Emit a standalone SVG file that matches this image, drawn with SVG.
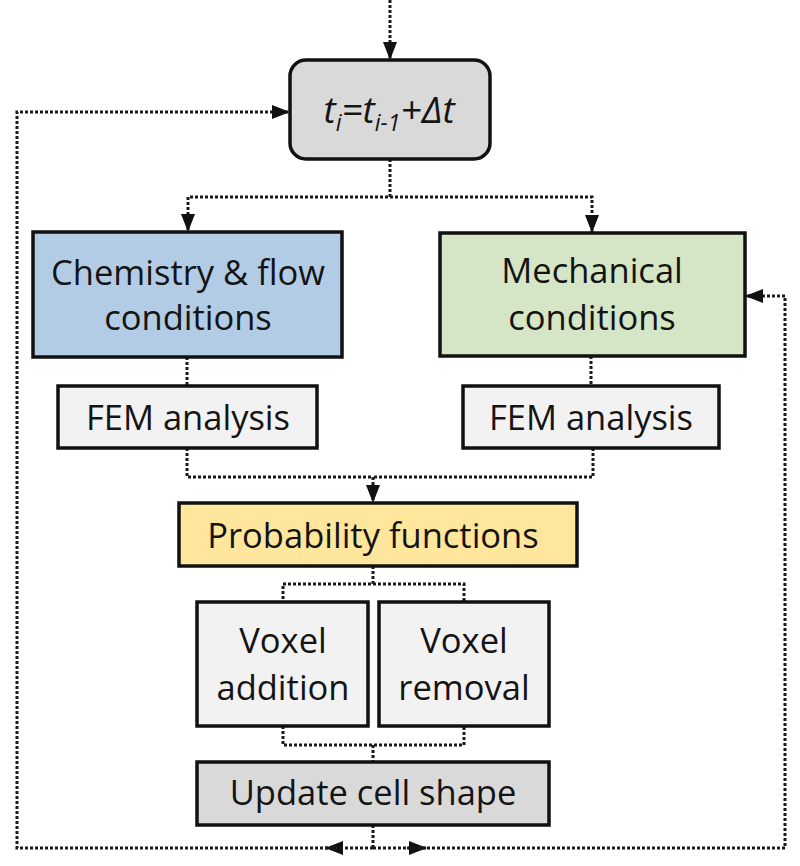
<svg xmlns="http://www.w3.org/2000/svg" width="800" height="866" viewBox="0 0 800 866">
<style>
.box{stroke:#111;stroke-width:3.5}
.lbl{font-family:"Open Sans","Noto Sans",sans-serif;font-size:34.5px;fill:#141414;text-anchor:middle}
.con{fill:none;stroke:#1a1a1a;stroke-width:3;stroke-dasharray:3 2}
</style>
<defs>
<marker id="ah" markerUnits="userSpaceOnUse" markerWidth="18" markerHeight="14" refX="18" refY="7" orient="auto">
<path d="M0,0 L18,7 L0,14 z" fill="#111"/>
</marker>
</defs>
<rect width="800" height="866" fill="#fff"/>
<g id="connectors">
<path class="con" d="M390 0 V60" marker-end="url(#ah)"/>
<path class="con" d="M390 159 V197 H188 V232" marker-end="url(#ah)"/>
<path class="con" d="M390 197 H592 V233" marker-end="url(#ah)"/>
<path class="con" d="M187 357 V386"/>
<path class="con" d="M591 356 V386"/>
<path class="con" d="M187 448 V477 H373 V503" marker-end="url(#ah)"/>
<path class="con" d="M593 448 V477 H373"/>
<path class="con" d="M373 566 V584 H283 V602"/>
<path class="con" d="M373 584 H464 V602"/>
<path class="con" d="M283 726 V745 H464 V726"/>
<path class="con" d="M373 745 V762"/>
<path class="con" d="M373 825 V848"/>
<path class="con" d="M373 848 H325" marker-end="url(#ah)"/>
<path class="con" d="M343 848 H17 V112 H290" marker-end="url(#ah)"/>
<path class="con" d="M373 848 H427" marker-end="url(#ah)"/>
<path class="con" d="M407 848 H785 V296 H745" marker-end="url(#ah)"/>
</g>
<g id="time">
<rect class="box" x="290" y="60" width="200" height="99" rx="16" fill="#d9d9d9"/>
<text x="389" y="123" font-family="'Open Sans','Noto Sans',sans-serif" font-size="37" font-style="italic" fill="#141414" text-anchor="middle">t<tspan font-size="23" dy="8">i</tspan><tspan dy="-8">=t</tspan><tspan font-size="23" dy="8">i-1</tspan><tspan dy="-8">+Δt</tspan></text>
</g>
<g id="chem">
<rect class="box" x="33" y="232" width="309" height="125" fill="#b2cce6"/>
<text class="lbl" x="188" y="285" font-size="35.5">Chemistry &amp; flow</text>
<text class="lbl" x="188" y="330" font-size="35.5">conditions</text>
</g>
<g id="mech">
<rect class="box" x="440" y="233" width="305" height="123" fill="#d5e6c6"/>
<text class="lbl" x="592" y="283" font-size="35.5">Mechanical</text>
<text class="lbl" x="592" y="330" font-size="35.5">conditions</text>
</g>
<g id="fem1">
<rect class="box" x="58" y="386" width="259" height="62" fill="#f2f2f2"/>
<text class="lbl" x="188" y="430">FEM analysis</text>
</g>
<g id="fem2">
<rect class="box" x="463" y="386" width="256" height="62" fill="#f2f2f2"/>
<text class="lbl" x="591" y="430">FEM analysis</text>
</g>
<g id="prob">
<rect class="box" x="179" y="503" width="398" height="63" fill="#fee69c"/>
<text class="lbl" x="373" y="548">Probability functions</text>
</g>
<g id="vadd">
<rect class="box" x="197" y="602" width="171" height="124" fill="#f2f2f2"/>
<text class="lbl" x="283" y="653">Voxel</text>
<text class="lbl" x="283" y="700">addition</text>
</g>
<g id="vrem">
<rect class="box" x="379" y="602" width="170" height="124" fill="#f2f2f2"/>
<text class="lbl" x="464" y="653">Voxel</text>
<text class="lbl" x="464" y="700">removal</text>
</g>
<g id="update">
<rect class="box" x="197" y="762" width="352" height="63" fill="#d9d9d9"/>
<text class="lbl" x="373" y="805">Update cell shape</text>
</g>
</svg>
